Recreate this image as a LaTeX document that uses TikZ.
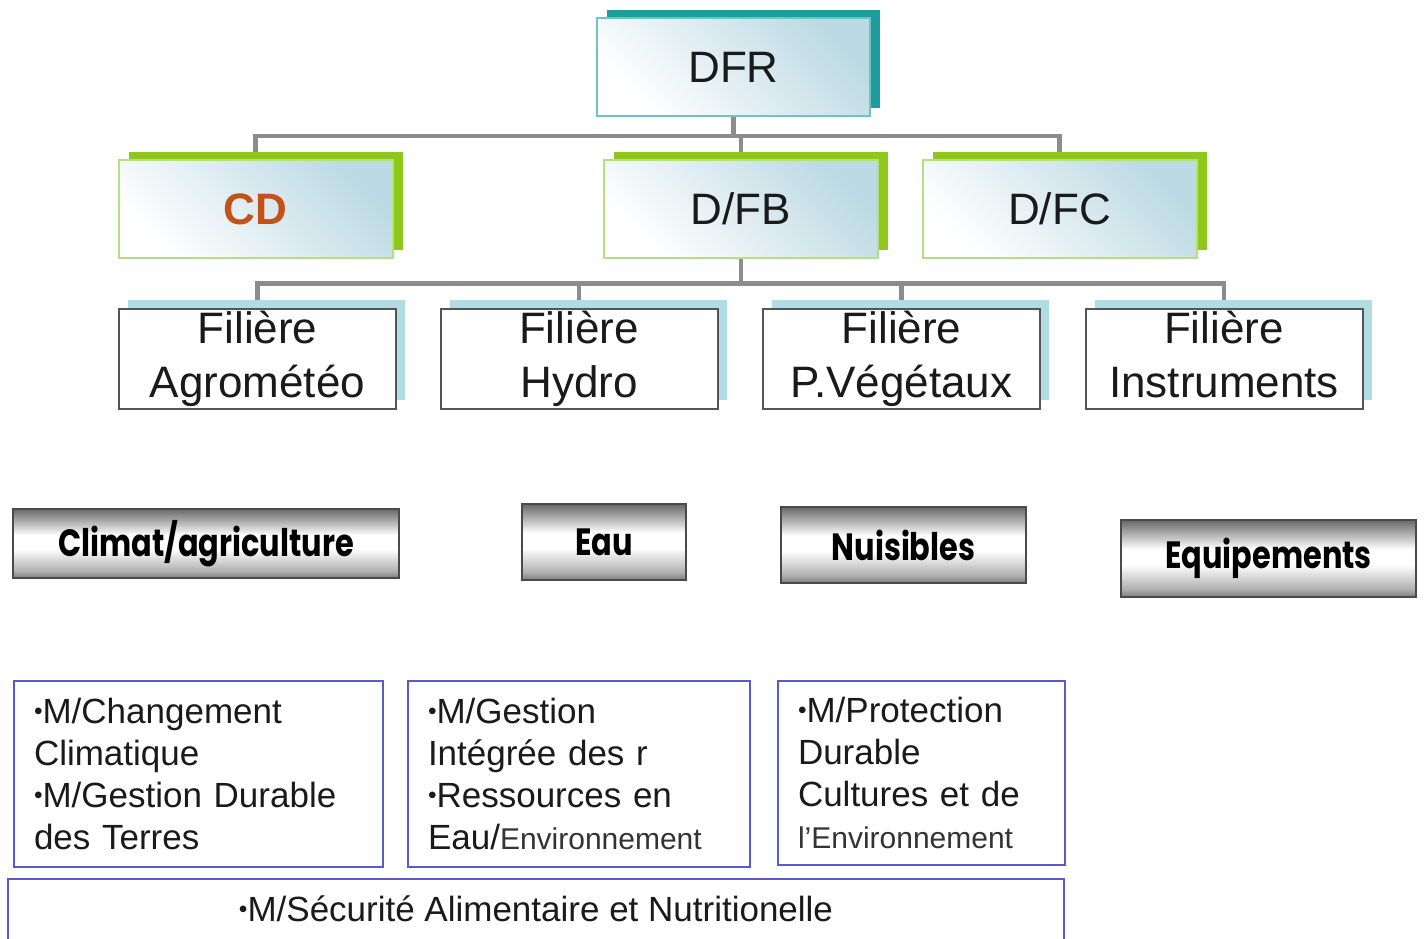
\documentclass[tikz,border=0pt]{standalone}
\usepackage{fontspec}
\usepackage{graphicx}
\setmainfont{Liberation Sans}
\newfontfamily\btnfont{Poppins}
\usetikzlibrary{shadows,backgrounds,calc}
\definecolor{tealshadow}{HTML}{1F9C9C}
\definecolor{tealborder}{HTML}{6CC4C4}
\definecolor{greenshadow}{HTML}{8FC81A}
\definecolor{greenborder}{HTML}{B5E080}
\definecolor{boxblue}{HTML}{BCDAE3}
\definecolor{filshadow}{HTML}{B0DCE4}
\definecolor{filborder}{HTML}{555555}
\definecolor{connc}{HTML}{8C8C8C}
\definecolor{mborder}{HTML}{5A5ACD}
\definecolor{btntop}{HTML}{686868}
\definecolor{btnbot}{HTML}{7C7C7C}
\definecolor{btnlow}{HTML}{B0B0B0}
\definecolor{btnborder}{HTML}{4A4A4A}
\definecolor{cdorange}{HTML}{C4501A}
\definecolor{txt}{HTML}{1A1A1A}
\definecolor{envgray}{HTML}{333333}
\pgfdeclareverticalshading{btnshade}{100bp}{color(0bp)=(btnbot); color(25bp)=(btnbot); color(30bp)=(btnlow); color(46bp)=(white); color(56bp)=(white); color(75bp)=(btntop); color(100bp)=(btntop)}
\newcommand\btntxt[1]{\scalebox{0.8}[1]{#1}}
\newcommand\envtxt[1]{{\fontsize{15}{21}\selectfont\color{envgray}#1}}
\newcommand\bul{\raisebox{0.12em}{\scalebox{0.7}{•}}}
\begin{document}
\begin{tikzpicture}[x=0.5pt,y=-0.5pt,
  conn/.style={draw=connc, line width=2.3pt},
  topbox/.style={draw=tealborder, line width=1pt, minimum width=136.5pt, minimum height=49pt, inner sep=0pt,
    top color=boxblue, bottom color=white, shading angle=-45,
    general shadow={fill=tealshadow, shadow xshift=5pt, shadow yshift=4pt},
    font=\fontsize{22}{26}\selectfont, text=txt},
  midbox/.style={draw=greenborder, line width=1pt, minimum width=137pt, minimum height=49pt, inner sep=0pt,
    top color=boxblue, bottom color=white, shading angle=-45,
    general shadow={fill=greenshadow, shadow xshift=5pt, shadow yshift=4pt},
    font=\fontsize{22}{26}\selectfont, text=txt},
  filbox/.style={draw=filborder, line width=1pt, fill=white, minimum width=138.5pt, minimum height=50pt, inner sep=0pt,
    general shadow={fill=filshadow, shadow xshift=4.5pt, shadow yshift=4.5pt},
    align=center, font=\fontsize{22}{27}\selectfont, text=txt},
  btn/.style={draw=btnborder, line width=0.9pt, shading=btnshade, inner sep=0pt,
    font=\btnfont\bfseries\fontsize{19}{22}\selectfont, text=black},
  mbox/.style={draw=mborder, line width=1pt, inner xsep=10pt, inner ysep=0pt, align=left,
    font=\fontsize{17.5}{21}\selectfont, text=txt},
  mline/.style={draw=mborder, line width=1pt}
]
\useasboundingbox (0,0) rectangle (1424,938);

% boxes
\node[topbox] (dfr) at (733.5,67) {DFR};
\node[midbox] (cd) at (255.5,209) {\textcolor{cdorange}{\bfseries CD}};
\node[midbox] (dfb) at (741,209) {D/FB};
\node[midbox] (dfc) at (1059.5,209) {D/FC};

\node[filbox] (f1) at (257.5,359) {Filière\\Agrométéo\vphantom{g}};
\node[filbox] (f2) at (579,359) {Filière\\Hydro\vphantom{g}};
\node[filbox] (f3) at (901.5,359) {Filière\\P.Végétaux\vphantom{g}};
\node[filbox] (f4) at (1224,359) {Filière\\Instruments\vphantom{g}};

% buttons
\node[btn, minimum width=193pt, minimum height=34.5pt] (b1) at (206,543.5) {\btntxt{Climat/agriculture}};
\node[btn, minimum width=82pt, minimum height=38pt] (b2) at (604,542) {\btntxt{Eau}};
\node[btn, minimum width=122.5pt, minimum height=38pt] (b3) at (903.5,545) {\btntxt{Nuisibles}};
\node[btn, minimum width=147.5pt, minimum height=38.5pt] (b4) at (1268.5,558.5) {\btntxt{Equipements}};

% bottom boxes
\node[mbox, anchor=north west, text width=164.5pt, minimum height=93pt] (m1) at (13,680)
  {\bul M/Changement\\Climatique\\\bul M/Gestion Durable\\des Terres};
\node[mbox, anchor=north west, text width=151pt, minimum height=93pt] (m2) at (407,680)
  {\bul M/Gestion\\Intégrée des r\\\bul Ressources en\\Eau/\envtxt{Environnement}};
\node[mbox, anchor=north west, text width=123.5pt, minimum height=92pt] (m3) at (777,680)
  {\bul M/Protection\\Durable\\Cultures et de\\\envtxt{l'Environnement}};
\node[font=\fontsize{17.5}{21}\selectfont, text=txt, minimum width=528pt, minimum height=30pt, inner sep=0pt] (m4) at (536,909)
  {\bul M/Sécurité Alimentaire et Nutritionelle};
\draw[mline] (m4.south west) -- (m4.north west) -- (m4.north east) -- (m4.south east);

% connectors behind the boxes
\begin{scope}[on background layer]
\fill[white] (0,0) rectangle (1424,938);
\coordinate (j1) at ($(dfr.south)!0.45!(dfb.north)$);
\coordinate (j2) at ($(dfb.south)!0.5!(f3.north)$);
\draw[conn] (dfr.south) -- (dfr.south |- j1);
\draw[conn] (dfr.south |- j1) -| (cd.north);
\draw[conn] (dfr.south |- j1) -| (dfb.north);
\draw[conn] (dfr.south |- j1) -| (dfc.north);
\draw[conn] (dfb.south) -- (dfb.south |- j2);
\draw[conn] (dfb.south |- j2) -| (f1.north);
\draw[conn] (dfb.south |- j2) -| (f2.north);
\draw[conn] (dfb.south |- j2) -| (f3.north);
\draw[conn] (dfb.south |- j2) -| (f4.north);
\end{scope}
\end{tikzpicture}
\end{document}
